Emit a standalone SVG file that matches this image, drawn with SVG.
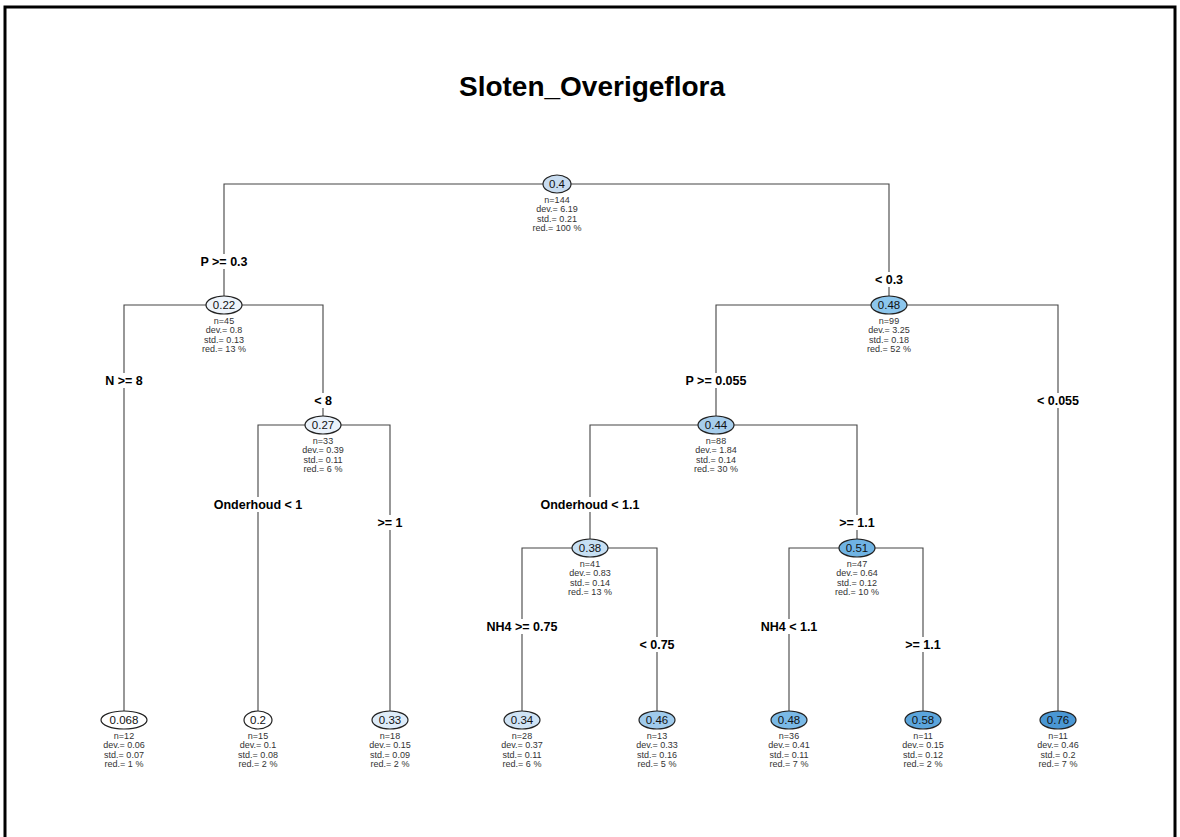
<svg xmlns="http://www.w3.org/2000/svg" width="1180" height="837" viewBox="0 0 1180 837">
  <style>
    .edge { stroke: #444; stroke-width: 1.1; fill: none; }
    .node ellipse { stroke: #222; stroke-width: 1.2; }
    .val { font-family: "Liberation Sans", Arial, sans-serif; font-size: 11.5px; fill: #111; text-anchor: middle; }
    .stat { font-family: "Liberation Sans", Arial, sans-serif; font-size: 9px; fill: #333; text-anchor: middle; }
    .split { font-family: "Liberation Sans", Arial, sans-serif; font-size: 12.5px; font-weight: bold; fill: #000; text-anchor: middle; }
    .lblbg { fill: #fff; }
    .title { font-family: "Liberation Sans", Arial, sans-serif; font-size: 28px; font-weight: bold; fill: #000; text-anchor: middle; }
  </style>
  <rect x="0" y="0" width="1180" height="837" fill="#fff"/>
  <!-- frame -->
  <path d="M5 837 V7 H1175 V837" fill="none" stroke="#000" stroke-width="3"/>
  <text class="title" x="592" y="96">Sloten_Overigeflora</text>

  <!-- connectors -->
  <g id="connectors">
    <path class="edge" d="M224 296 V184 H889 V296"/>
    <path class="edge" d="M124 711 V305 H323 V416"/>
    <path class="edge" d="M258 711 V425 H390 V711"/>
    <path class="edge" d="M716 416 V305 H1058 V711"/>
    <path class="edge" d="M590 539 V425 H857 V539"/>
    <path class="edge" d="M522 711 V548 H657 V711"/>
    <path class="edge" d="M789 711 V548 H923 V711"/>
  </g>

  <!-- split labels -->
  <g id="split-labels">
    <rect class="lblbg" x="194" y="254" width="60" height="15"/><text class="split" x="224" y="266">P &gt;= 0.3</text>
    <rect class="lblbg" x="870" y="272" width="38" height="15"/><text class="split" x="889" y="284">&lt; 0.3</text>
    <rect class="lblbg" x="99" y="373" width="50" height="15"/><text class="split" x="124" y="385">N &gt;= 8</text>
    <rect class="lblbg" x="309" y="393" width="28" height="15"/><text class="split" x="323" y="405">&lt; 8</text>
    <rect class="lblbg" x="204" y="497" width="108" height="15"/><text class="split" x="258" y="509">Onderhoud &lt; 1</text>
    <rect class="lblbg" x="372" y="515" width="36" height="15"/><text class="split" x="390" y="527">&gt;= 1</text>
    <rect class="lblbg" x="676" y="373" width="80" height="15"/><text class="split" x="716" y="385">P &gt;= 0.055</text>
    <rect class="lblbg" x="1030" y="393" width="56" height="15"/><text class="split" x="1058" y="405">&lt; 0.055</text>
    <rect class="lblbg" x="530" y="497" width="120" height="15"/><text class="split" x="590" y="509">Onderhoud &lt; 1.1</text>
    <rect class="lblbg" x="834" y="515" width="46" height="15"/><text class="split" x="857" y="527">&gt;= 1.1</text>
    <rect class="lblbg" x="476" y="619" width="92" height="15"/><text class="split" x="522" y="631">NH4 &gt;= 0.75</text>
    <rect class="lblbg" x="633" y="637" width="48" height="15"/><text class="split" x="657" y="649">&lt; 0.75</text>
    <rect class="lblbg" x="752" y="619" width="74" height="15"/><text class="split" x="789" y="631">NH4 &lt; 1.1</text>
    <rect class="lblbg" x="900" y="637" width="46" height="15"/><text class="split" x="923" y="649">&gt;= 1.1</text>
  </g>

  <!-- internal nodes -->
  <g id="node-root" class="node">
    <ellipse cx="557" cy="184" rx="14" ry="9" fill="#c8dcf0"/>
    <text class="val" x="557" y="188">0.4</text>
    <text class="stat" x="557" y="203">n=144</text>
    <text class="stat" x="557" y="212">dev.= 6.19</text>
    <text class="stat" x="557" y="222">std.= 0.21</text>
    <text class="stat" x="557" y="231">red.= 100 %</text>
  </g>
  <g id="node-022" class="node">
    <ellipse cx="224" cy="305" rx="18" ry="9" fill="#eef4fb"/>
    <text class="val" x="224" y="309">0.22</text>
    <text class="stat" x="224" y="324">n=45</text>
    <text class="stat" x="224" y="333">dev.= 0.8</text>
    <text class="stat" x="224" y="343">std.= 0.13</text>
    <text class="stat" x="224" y="352">red.= 13 %</text>
  </g>
  <g id="node-048a" class="node">
    <ellipse cx="889" cy="305" rx="18" ry="9" fill="#8cc6ed"/>
    <text class="val" x="889" y="309">0.48</text>
    <text class="stat" x="889" y="324">n=99</text>
    <text class="stat" x="889" y="333">dev.= 3.25</text>
    <text class="stat" x="889" y="343">std.= 0.18</text>
    <text class="stat" x="889" y="352">red.= 52 %</text>
  </g>
  <g id="node-027" class="node">
    <ellipse cx="323" cy="425" rx="18" ry="9" fill="#eaf2fb"/>
    <text class="val" x="323" y="429">0.27</text>
    <text class="stat" x="323" y="444">n=33</text>
    <text class="stat" x="323" y="453">dev.= 0.39</text>
    <text class="stat" x="323" y="463">std.= 0.11</text>
    <text class="stat" x="323" y="472">red.= 6 %</text>
  </g>
  <g id="node-044" class="node">
    <ellipse cx="716" cy="425" rx="18" ry="9" fill="#a6cdec"/>
    <text class="val" x="716" y="429">0.44</text>
    <text class="stat" x="716" y="444">n=88</text>
    <text class="stat" x="716" y="453">dev.= 1.84</text>
    <text class="stat" x="716" y="463">std.= 0.14</text>
    <text class="stat" x="716" y="472">red.= 30 %</text>
  </g>
  <g id="node-038" class="node">
    <ellipse cx="590" cy="548" rx="18" ry="9" fill="#c6dff3"/>
    <text class="val" x="590" y="552">0.38</text>
    <text class="stat" x="590" y="567">n=41</text>
    <text class="stat" x="590" y="576">dev.= 0.83</text>
    <text class="stat" x="590" y="586">std.= 0.14</text>
    <text class="stat" x="590" y="595">red.= 13 %</text>
  </g>
  <g id="node-051" class="node">
    <ellipse cx="857" cy="548" rx="18" ry="9" fill="#6fb3e3"/>
    <text class="val" x="857" y="552">0.51</text>
    <text class="stat" x="857" y="567">n=47</text>
    <text class="stat" x="857" y="576">dev.= 0.64</text>
    <text class="stat" x="857" y="586">std.= 0.12</text>
    <text class="stat" x="857" y="595">red.= 10 %</text>
  </g>

  <!-- leaves -->
  <g id="leaf-0068" class="node">
    <ellipse cx="124" cy="720" rx="23" ry="9" fill="#ffffff"/>
    <text class="val" x="124" y="724">0.068</text>
    <text class="stat" x="124" y="739">n=12</text>
    <text class="stat" x="124" y="748">dev.= 0.06</text>
    <text class="stat" x="124" y="758">std.= 0.07</text>
    <text class="stat" x="124" y="767">red.= 1 %</text>
  </g>
  <g id="leaf-02" class="node">
    <ellipse cx="258" cy="720" rx="14" ry="9" fill="#ffffff"/>
    <text class="val" x="258" y="724">0.2</text>
    <text class="stat" x="258" y="739">n=15</text>
    <text class="stat" x="258" y="748">dev.= 0.1</text>
    <text class="stat" x="258" y="758">std.= 0.08</text>
    <text class="stat" x="258" y="767">red.= 2 %</text>
  </g>
  <g id="leaf-033" class="node">
    <ellipse cx="390" cy="720" rx="18" ry="9" fill="#deecf9"/>
    <text class="val" x="390" y="724">0.33</text>
    <text class="stat" x="390" y="739">n=18</text>
    <text class="stat" x="390" y="748">dev.= 0.15</text>
    <text class="stat" x="390" y="758">std.= 0.09</text>
    <text class="stat" x="390" y="767">red.= 2 %</text>
  </g>
  <g id="leaf-034" class="node">
    <ellipse cx="522" cy="720" rx="18" ry="9" fill="#cfe3f5"/>
    <text class="val" x="522" y="724">0.34</text>
    <text class="stat" x="522" y="739">n=28</text>
    <text class="stat" x="522" y="748">dev.= 0.37</text>
    <text class="stat" x="522" y="758">std.= 0.11</text>
    <text class="stat" x="522" y="767">red.= 6 %</text>
  </g>
  <g id="leaf-046" class="node">
    <ellipse cx="657" cy="720" rx="18" ry="9" fill="#a0cbec"/>
    <text class="val" x="657" y="724">0.46</text>
    <text class="stat" x="657" y="739">n=13</text>
    <text class="stat" x="657" y="748">dev.= 0.33</text>
    <text class="stat" x="657" y="758">std.= 0.16</text>
    <text class="stat" x="657" y="767">red.= 5 %</text>
  </g>
  <g id="leaf-048" class="node">
    <ellipse cx="789" cy="720" rx="18" ry="9" fill="#7ab9e6"/>
    <text class="val" x="789" y="724">0.48</text>
    <text class="stat" x="789" y="739">n=36</text>
    <text class="stat" x="789" y="748">dev.= 0.41</text>
    <text class="stat" x="789" y="758">std.= 0.11</text>
    <text class="stat" x="789" y="767">red.= 7 %</text>
  </g>
  <g id="leaf-058" class="node">
    <ellipse cx="923" cy="720" rx="18" ry="9" fill="#5ba5dc"/>
    <text class="val" x="923" y="724">0.58</text>
    <text class="stat" x="923" y="739">n=11</text>
    <text class="stat" x="923" y="748">dev.= 0.15</text>
    <text class="stat" x="923" y="758">std.= 0.12</text>
    <text class="stat" x="923" y="767">red.= 2 %</text>
  </g>
  <g id="leaf-076" class="node">
    <ellipse cx="1058" cy="720" rx="18" ry="9" fill="#4a97d4"/>
    <text class="val" x="1058" y="724">0.76</text>
    <text class="stat" x="1058" y="739">n=11</text>
    <text class="stat" x="1058" y="748">dev.= 0.46</text>
    <text class="stat" x="1058" y="758">std.= 0.2</text>
    <text class="stat" x="1058" y="767">red.= 7 %</text>
  </g>
</svg>
